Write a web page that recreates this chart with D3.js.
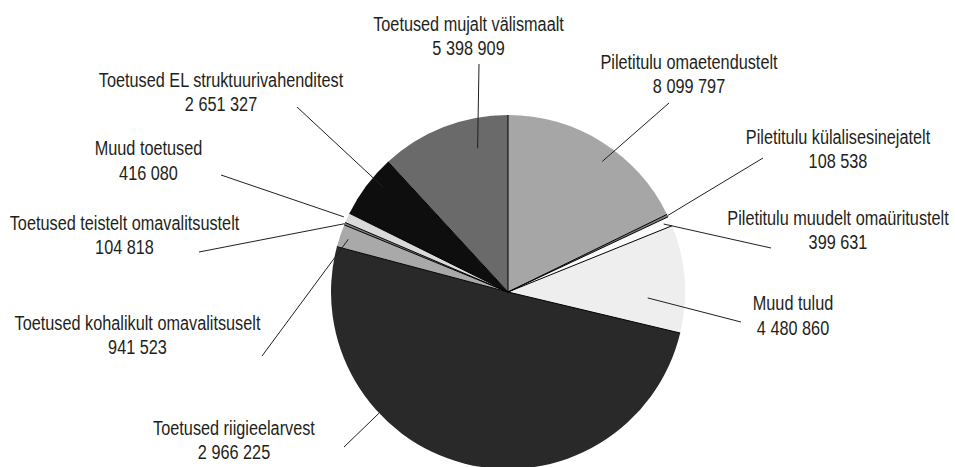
<!DOCTYPE html>
<html>
<head>
<meta charset="utf-8">
<script src="https://cdn.jsdelivr.net/npm/d3@7"></script>
<style>
  body { margin: 0; background: #fff; }
  text {
    font-family: "Liberation Sans", Arial, sans-serif;
    font-size: 21px;
    fill: #231f20;
  }
</style>
</head>
<body>
<div id="chart"></div>
<script>
// Tulud (eurot), kellaosuti suunas alates kella 12-st
var categories = [
  "Piletitulu omaetendustelt",
  "Piletitulu külalisesinejatelt",
  "Piletitulu muudelt omaüritustelt",
  "Muud tulud",
  "Toetused riigieelarvest",
  "Toetused kohalikult omavalitsuselt",
  "Toetused teistelt omavalitsustelt",
  "Muud toetused",
  "Toetused EL struktuurivahenditest",
  "Toetused mujalt välismaalt"
];

var values = [8099797, 108538, 399631, 4480860, 22966225, 941523, 104818, 416080, 2651327, 5398909];

// summad nii nagu need pildil kirjas on
var valueLabels = ["8 099 797", "108 538", "399 631", "4 480 860", "2 966 225",
  "941 523", "104 818", "416 080", "2 651 327", "5 398 909"];

var fills = ["#a6a6a6", "#7f7f7f", "#fbfbfb", "#eeeeee", "#292929",
  "#a9a9a9", "#7f7f7f", "#dadada", "#0e0e0e", "#6a6a6a"];

// sildi kese (cx, y), juhtjoone välimine ots (lx, ly),
// sisemine ots viilu sees: t = osa viilu nurgast, k = osa raadiusest
var labelLayout = [
  { cx: 689, y: 68.5, lx: 669, ly: 103, t: 0.56, k: 0.91 },
  { cx: 838, y: 143.5, lx: 763, ly: 158, t: 0.5, k: 1.0 },
  { cx: 838, y: 224.5, lx: 771, ly: 248, t: 0.5, k: 0.96 },
  { cx: 793, y: 310, lx: 741, ly: 322, t: 0.69, k: 0.79 },
  { cx: 234, y: 434.5, lx: 344, ly: 447, t: 0.68, k: 1.0 },
  { cx: 137.5, y: 329.5, lx: 262, ly: 356, t: 0.46, k: 0.95 },
  { cx: 124.5, y: 229.5, lx: 199, ly: 252, t: 0.5, k: 1.0 },
  { cx: 148.5, y: 155, lx: 221, ly: 175, t: 0.45, k: 1.02 },
  { cx: 221, y: 86.5, lx: 297, ly: 107, t: 0.65, k: 0.92 },
  { cx: 468.5, y: 30.5, lx: 479, ly: 64, t: 0.72, k: 0.83 }
];

var svgWidth = 955;
var svgHeight = 467;
var centerX = 508;
var centerY = 292;
var radius = 177;
var lineGap = 25;
// kitsas kiri: Liberation Sans kokku surutud
var narrow = 0.775;

var svg = d3.select("#chart")
  .append("svg")
  .attr("width", svgWidth)
  .attr("height", svgHeight);

var pie = d3.pie()
  .sort(null)
  .value(d => d);

var arcs = pie(values);

var arc = d3.arc()
  .innerRadius(0)
  .outerRadius(radius);

var pieGroup = svg.append("g")
  .attr("transform", `translate(${centerX}, ${centerY})`);

// viilud
pieGroup.selectAll("path")
  .data(arcs)
  .enter()
  .append("path")
  .attr("d", arc)
  .attr("fill", (d, i) => fills[i]);

// tumedad piirjooned viilude vahel (ainult raadiused)
pieGroup.selectAll("line.edge")
  .data(arcs)
  .enter()
  .append("line")
  .attr("class", "edge")
  .attr("x1", 0)
  .attr("y1", 0)
  .attr("x2", d => radius * Math.sin(d.startAngle))
  .attr("y2", d => -radius * Math.cos(d.startAngle))
  .attr("stroke", "#000")
  .attr("stroke-width", 1);

function innerPoint(d, i) {
  var p = labelLayout[i];
  var a = d.startAngle + p.t * (d.endAngle - d.startAngle);
  return [centerX + radius * p.k * Math.sin(a), centerY - radius * p.k * Math.cos(a)];
}

// juhtjooned
svg.selectAll("line.leader")
  .data(arcs)
  .enter()
  .append("line")
  .attr("class", "leader")
  .attr("x1", (d, i) => innerPoint(d, i)[0])
  .attr("y1", (d, i) => innerPoint(d, i)[1])
  .attr("x2", (d, i) => labelLayout[i].lx)
  .attr("y2", (d, i) => labelLayout[i].ly)
  .attr("stroke", "#231f20")
  .attr("stroke-width", 1);

// sildid
var labels = svg.selectAll("text.label")
  .data(categories)
  .enter()
  .append("text")
  .attr("class", "label")
  .attr("text-anchor", "middle")
  .attr("transform", (d, i) => `translate(${labelLayout[i].cx}, ${labelLayout[i].y}) scale(${narrow}, 1)`);

labels.append("tspan")
  .attr("x", 0)
  .attr("y", 0)
  .text(d => d);

labels.append("tspan")
  .attr("x", 0)
  .attr("y", lineGap)
  .text((d, i) => valueLabels[i]);
</script>
</body>
</html>
